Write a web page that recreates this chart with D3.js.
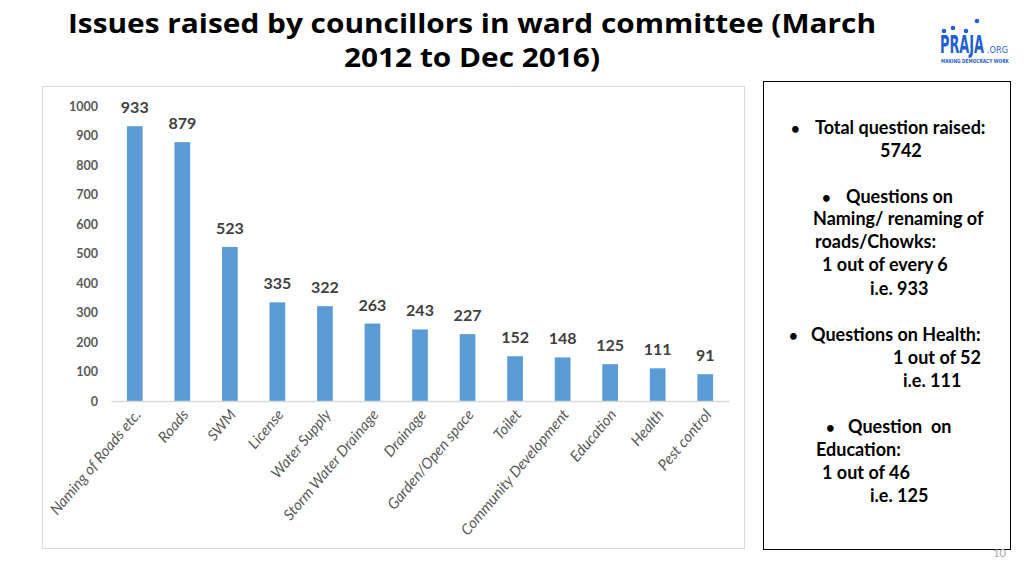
<!DOCTYPE html>
<html><head><meta charset="utf-8">
<script src="https://cdn.jsdelivr.net/npm/d3@7/dist/d3.min.js"></script>
<style>
html,body{margin:0;padding:0;background:#fff;}
svg{display:block;}
</style></head>
<body>
<svg id="chart" width="1024" height="575"></svg>
<script>
const categories = ["Naming of Roads etc.","Roads","SWM","License","Water Supply","Storm Water Drainage","Drainage","Garden/Open space","Toilet","Community Development","Education","Health","Pest control"];
const values = [933,879,523,335,322,263,243,227,152,148,125,111,91];
const yTicks = [0,100,200,300,400,500,600,700,800,900,1000];
const titleLines = ["Issues raised by councillors in ward committee (March","2012 to Dec 2016)"];
const titleWidths = [808,256];
const boxLines = [
  {t:"Total question raised:", x:815, y:134, bullet:791},
  {t:"5742", x:880, y:157},
  {t:"Questions on", x:846, y:203, bullet:822},
  {t:"Naming/ renaming of", x:813, y:225},
  {t:"roads/Chowks:", x:815, y:248},
  {t:"1 out of every 6", x:822, y:271},
  {t:"i.e. 933", x:870, y:295},
  {t:"Questions on Health:", x:811, y:341, bullet:789},
  {t:"1 out of 52", x:893, y:364},
  {t:"i.e. 111", x:903, y:387},
  {t:"Question  on", x:848, y:433, bullet:826},
  {t:"Education:", x:816, y:456},
  {t:"1 out of 46", x:822, y:479},
  {t:"i.e. 125", x:870, y:502}
];

const svg = d3.select("#chart");
const font = "Lato, 'Open Sans', sans-serif";

// title
svg.append("g").selectAll("text").data(titleLines).join("text")
  .attr("x", 472).attr("y",(d,i)=>33+i*34)
  .attr("text-anchor","middle")
  .attr("font-family","'Open Sans', sans-serif").attr("font-weight",700)
  .attr("font-size",27).attr("fill","#000")
  .attr("textLength",(d,i)=>titleWidths[i]).attr("lengthAdjust","spacingAndGlyphs")
  .text(d=>d);

// logo
const logo = svg.append("g").attr("fill","#1f5fd0");
function fitText(sel, x0, w){
  const n = sel.node().getComputedTextLength();
  const s = w / n;
  sel.attr("x",0).attr("transform",`translate(${x0},0) scale(${s},1)`);
}
const praja = logo.append("text").attr("y",53).attr("font-family","'DejaVu Sans Condensed',sans-serif")
  .attr("font-weight",700).attr("font-size",25).text("PRAJA");
fitText(praja, 940, 44);
[[944,31],[953,28],[966,31],[977,21]].forEach(p=>logo.append("circle").attr("cx",p[0]).attr("cy",p[1]).attr("r",2.3));
const org = logo.append("text").attr("y",53).attr("font-family","'DejaVu Sans Condensed',sans-serif")
  .attr("font-size",8.5).text(".ORG");
fitText(org, 987, 21);
const mdw = logo.append("text").attr("y",63).attr("font-family","'DejaVu Sans Condensed',sans-serif")
  .attr("font-weight",700).attr("font-size",5.5).text("MAKING DEMOCRACY WORK");
fitText(mdw, 941, 68);

// chart panel
svg.append("rect").attr("x",42.5).attr("y",86.5).attr("width",702).attr("height",462)
  .attr("fill","#fff").attr("stroke","#d9d9d9").attr("stroke-width",1);

const x = d3.scaleBand().domain(categories).range([111,729]).paddingInner(0.67).paddingOuter(0.335);
const y = d3.scaleLinear().domain([0,1000]).range([401,106.5]);

// y axis
const ya = svg.append("g").attr("transform","translate(111,0)")
  .call(d3.axisLeft(y).tickValues(yTicks).tickSize(0).tickPadding(13).tickFormat(d3.format("d")));
ya.select(".domain").remove();
ya.selectAll("text").attr("font-family",font).attr("font-weight",700).attr("font-size",12.5).attr("fill","#595959");

// bars
svg.append("g").selectAll("rect").data(values).join("rect")
  .attr("x",(d,i)=>x(categories[i])).attr("width",x.bandwidth())
  .attr("y",d=>y(d)).attr("height",d=>y(0)-y(d)).attr("fill","#5b9bd5");

// x axis
const xa = svg.append("g").attr("transform",`translate(0,${y(0)})`)
  .call(d3.axisBottom(x).tickSize(0).tickPadding(0).tickSizeOuter(0));
xa.select(".domain").attr("stroke","#d9d9d9").attr("stroke-width",1.3);
xa.selectAll("text")
  .attr("font-family",font).attr("font-style","italic").attr("font-size",15).attr("fill","#595959")
  .attr("text-anchor","end").attr("dy",0).attr("y",0)
  .attr("transform","translate(7,14) rotate(-50)");

// value labels
svg.append("g").selectAll("text").data(values).join("text")
  .attr("x",(d,i)=>x(categories[i])+x.bandwidth()/2)
  .attr("y",d=>y(d)-13)
  .attr("text-anchor","middle")
  .attr("font-family",font).attr("font-weight",700).attr("font-size",16).attr("fill","#404040")
  .text(d=>d);

// text box
svg.append("rect").attr("x",763.5).attr("y",81.5).attr("width",247).attr("height",468)
  .attr("fill","none").attr("stroke","#000").attr("stroke-width",1);
const bt = svg.append("g").attr("font-family",font).attr("font-weight",700).attr("font-size",18).attr("fill","#000");
bt.selectAll("text.line").data(boxLines).join("text").attr("class","line")
  .attr("x",d=>d.x).attr("y",d=>d.y).attr("xml:space","preserve").style("white-space","pre").text(d=>d.t);
bt.selectAll("text.bul").data(boxLines.filter(d=>d.bullet)).join("text").attr("class","bul")
  .attr("x",d=>d.bullet).attr("y",d=>d.y).attr("font-size",15).text("•");

svg.append("text").attr("x",1006).attr("y",557).attr("text-anchor","end")
  .attr("font-family",font).attr("font-size",11).attr("fill","#a6a6a6").text("10");
</script>
</body></html>
